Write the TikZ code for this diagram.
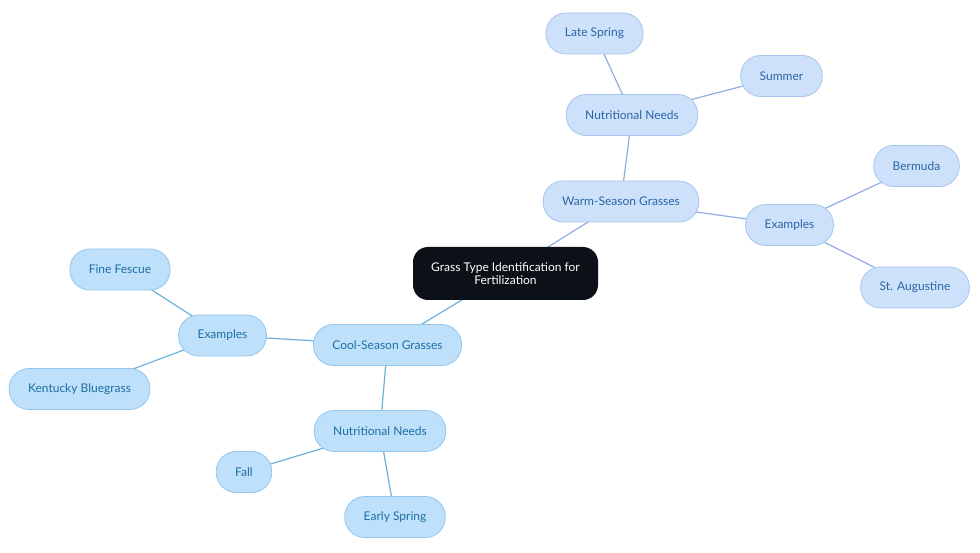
\documentclass[tikz,border=0pt]{standalone}
\usepackage{fontspec}
\setmainfont{Lato}
\usetikzlibrary{backgrounds}
\definecolor{rootfill}{HTML}{0B1117}
\definecolor{coolfill}{HTML}{BFE0FA}
\definecolor{coolline}{HTML}{93C6EE}
\definecolor{cooltext}{HTML}{1D6FA5}
\definecolor{cooledge}{HTML}{6CB0DE}
\definecolor{warmfill}{HTML}{CDE2FA}
\definecolor{warmline}{HTML}{A6C4EC}
\definecolor{warmtext}{HTML}{2B64A6}
\definecolor{warmedge}{HTML}{8FAEDD}
\tikzset{
  pill/.style={rounded corners=20pt, minimum height=41pt, inner xsep=19pt,
    font=\fontsize{12}{14}\selectfont, line width=0.8pt},
  coolbox/.style={pill, fill=coolfill, draw=coolline, text=cooltext},
  warmbox/.style={pill, fill=warmfill, draw=warmline, text=warmtext},
  rootbox/.style={rounded corners=15pt, fill=rootfill, text=white,
    minimum width=185pt, minimum height=53pt, align=center,
    font=\fontsize{12}{13}\selectfont},
  cooledge/.style={draw=cooledge, line width=1.2pt},
  warmedge/.style={draw=warmedge, line width=1.2pt}
}
\begin{document}
\begin{tikzpicture}[x=1pt, y=-1pt]
  \useasboundingbox (0, 0) rectangle (980, 553);
  % centre
  \node[rootbox] (root) at (505.5, 273.5) {Grass Type Identification for\\Fertilization};
  % warm-season branch
  \node[warmbox] (warm) at (621, 201.5) {Warm-Season Grasses};
  \node[warmbox] (wneeds) at (632, 115) {Nutritional Needs};
  \node[warmbox] (late) at (594.5, 33.5) {Late Spring};
  \node[warmbox] (summer) at (781.5, 76) {Summer};
  \node[warmbox] (wex) at (789.5, 225) {Examples};
  \node[warmbox] (bermuda) at (916.5, 166) {Bermuda};
  \node[warmbox] (staug) at (915, 287.5) {St. Augustine};
  % cool-season branch
  \node[coolbox] (cool) at (387.5, 345) {Cool-Season Grasses};
  \node[coolbox] (cex) at (222.5, 335.5) {Examples};
  \node[coolbox] (fescue) at (120, 269.5) {Fine Fescue};
  \node[coolbox] (kentucky) at (79.5, 389) {Kentucky Bluegrass};
  \node[coolbox] (cneeds) at (380, 431) {Nutritional Needs};
  \node[coolbox] (fall) at (244, 472) {Fall};
  \node[coolbox] (early) at (395, 517) {Early Spring};
  % connectors
  \begin{scope}[on background layer]
    \draw[warmedge] (root.center) -- (warm.center);
    \draw[warmedge] (warm.center) -- (wneeds.center);
    \draw[warmedge] (wneeds.center) -- (late.center);
    \draw[warmedge] (wneeds.center) -- (summer.center);
    \draw[warmedge] (warm.center) -- (wex.center);
    \draw[warmedge] (wex.center) -- (bermuda.center);
    \draw[warmedge] (wex.center) -- (staug.center);
    \draw[cooledge] (root.center) -- (cool.center);
    \draw[cooledge] (cool.center) -- (cex.center);
    \draw[cooledge] (cex.center) -- (fescue.center);
    \draw[cooledge] (cex.center) -- (kentucky.center);
    \draw[cooledge] (cool.center) -- (cneeds.center);
    \draw[cooledge] (cneeds.center) -- (fall.center);
    \draw[cooledge] (cneeds.center) -- (early.center);
  \end{scope}
\end{tikzpicture}
\end{document}
